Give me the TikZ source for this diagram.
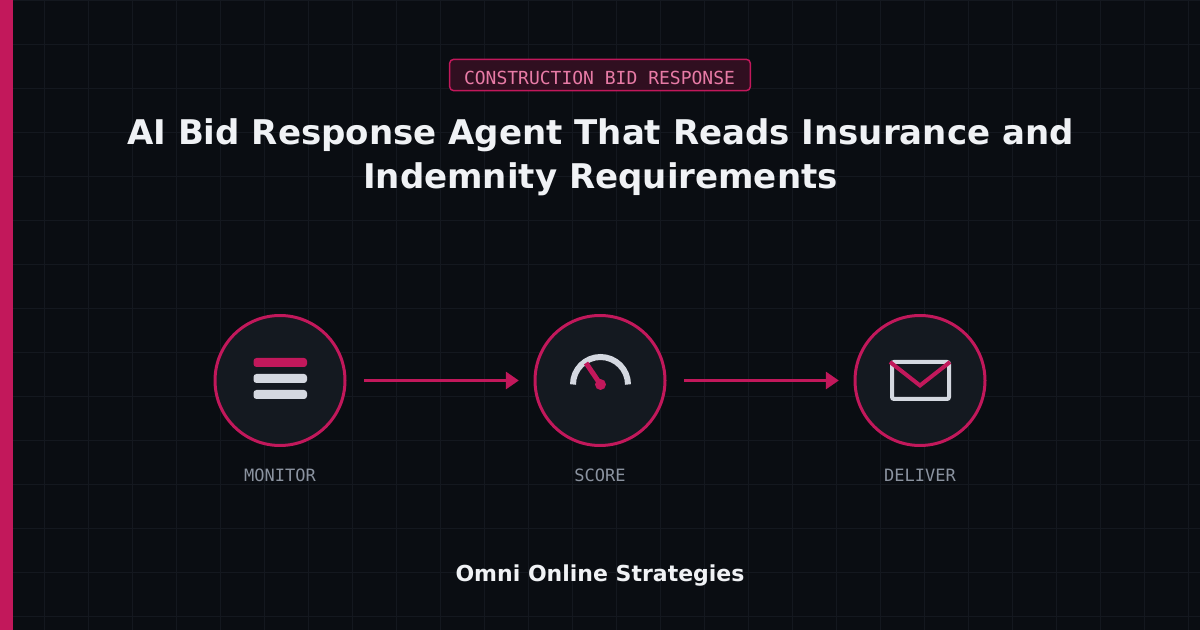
\documentclass[tikz,border=0pt]{standalone}
\usepackage{fontspec}
\setmainfont{DejaVu Sans}
\newfontfamily\labelfont{DejaVu Sans Mono}
\usetikzlibrary{arrows.meta,positioning}
\definecolor{nightbg}{HTML}{0A0D12}
\definecolor{gridline}{HTML}{14181F}
\definecolor{discfill}{HTML}{141920}
\definecolor{rosered}{HTML}{C2185B}
\definecolor{rosepale}{HTML}{E87BA6}
\definecolor{badgefill}{HTML}{300F20}
\definecolor{paleicon}{HTML}{D4D8E0}
\definecolor{captiongray}{HTML}{8B93A0}
\definecolor{titlewhite}{HTML}{F0F2F5}
\tikzset{
  stagedisc/.style={circle, draw=rosered, line width=2.25pt, fill=discfill, minimum size=97.5pt, inner sep=0pt},
  stagecaption/.style={font=\labelfont\fontsize{12.75pt}{15pt}\selectfont, text=captiongray, inner sep=0pt},
  flow/.style={-{Triangle[length=9.75pt,width=12.75pt]}, draw=rosered, line width=2.25pt, shorten <=13pt, shorten >=11pt},
  iconbar/.style={fill=#1, rounded corners=2.25pt},
}
\begin{document}
\begin{tikzpicture}[x=0.75pt, y=-0.75pt] % {{{
\useasboundingbox (0,0) rectangle (1200,630);
\fill[nightbg] (0,0) rectangle (1200,630);
% Grid {{{
\foreach \x in {0,44,...,1188} {
  \draw[gridline, line width=0.75pt] (\x+0.5,0) -- (\x+0.5,630);
}
\foreach \y in {0,44,...,616} {
  \draw[gridline, line width=0.75pt] (0,\y+0.5) -- (1200,\y+0.5);
}
\fill[rosered] (0,0) rectangle (13,630);
% }}}
% Heading {{{
\node[draw=rosered, line width=1.1pt, fill=badgefill, rounded corners=3pt, minimum width=225.5pt, minimum height=23.5pt, inner sep=0pt] (badge) at (600,75) {};
\node[font=\labelfont\fontsize{13.5pt}{16pt}\selectfont, text=rosepale, inner sep=0pt] (badgetext) at (599.5,78) {CONSTRUCTION BID RESPONSE};
\node[font=\bfseries\fontsize{25.52pt}{33pt}\selectfont, text=titlewhite, align=center, inner sep=0pt] (headline) at (600.5,157.5)
  {AI Bid Response Agent That Reads Insurance and\\Indemnity Requirements};
\node[font=\bfseries\fontsize{16.5pt}{20pt}\selectfont, text=titlewhite, inner sep=0pt] (brand) at (600,575.5) {Omni Online Strategies};
% }}}
% Stages {{{
\foreach \name/\cx/\txt in {monitor/280/MONITOR, score/600/SCORE, deliver/920/DELIVER} {
  \node[stagedisc] (\name) at (\cx,380.5) {};
  \node[stagecaption] (\name label) at (\cx,475) {\txt};
}
\draw[flow] (monitor) -- (score);
\draw[flow] (score) -- (deliver);
% }}}
\begin{scope}[shift={(280,380)}] % Monitor icon {{{
\fill[iconbar=rosered] (-26.5,-22) rectangle (27,-13);
\fill[iconbar=paleicon] (-26.5,-6) rectangle (27,3);
\fill[iconbar=paleicon] (-26.5,10) rectangle (27,19);
\end{scope} % }}}
\begin{scope}[shift={(600.5,384.5)}] % Score icon {{{
\draw[paleicon, line width=4.5pt] (-27.5,0) arc[start angle=180, end angle=0, radius=20.625pt];
\draw[rosered, line width=3.75pt] (0,0) -- (-14.5,-21.5);
\fill[rosered] (0,0) circle[radius=4.1pt];
\end{scope} % }}}
\begin{scope}[shift={(920,380)}] % Deliver icon {{{
\draw[paleicon, line width=3pt, rounded corners=1.5pt] (-28,-18) rectangle (29,19);
\draw[rosered, line width=3pt] (-30,-18) -- (0,5.5) -- (30,-18);
\end{scope} % }}}
\end{tikzpicture}
\end{document}
